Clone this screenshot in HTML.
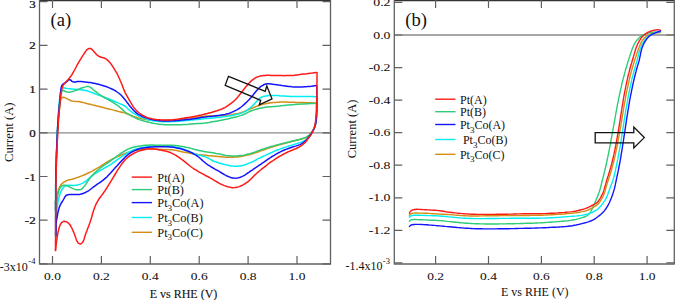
<!DOCTYPE html>
<html><head><meta charset="utf-8"><title>CV and LSV</title>
<style>html,body{margin:0;padding:0;background:#fff;width:675px;height:300px;overflow:hidden}svg{display:block}text{font-family:"Liberation Serif",serif}</style>
</head><body>
<svg width="675" height="300" viewBox="0 0 675 300"><rect width="675" height="300" fill="#fff"/><line x1="39.5" y1="132.9" x2="330.5" y2="132.9" stroke="#8a8a8a" stroke-width="1.4"/><line x1="39.5" y1="0.5" x2="330.5" y2="0.5" stroke="#333" stroke-width="1.6"/><line x1="39.5" y1="0" x2="39.5" y2="264.5" stroke="#606060" stroke-width="1.3"/><line x1="330.5" y1="0" x2="330.5" y2="264.5" stroke="#606060" stroke-width="1.3"/><line x1="39.5" y1="264.0" x2="330.5" y2="264.0" stroke="#606060" stroke-width="1.3"/><path d="M52.5,264.0 V256.0 M52.5,0 V8 M101.4,264.0 V256.0 M101.4,0 V8 M150.3,264.0 V256.0 M150.3,0 V8 M199.2,264.0 V256.0 M199.2,0 V8 M248.1,264.0 V256.0 M248.1,0 V8 M297.0,264.0 V256.0 M297.0,0 V8 M39.5,1.7 H47.5 M330.5,1.7 H322.5 M39.5,45.4 H47.5 M330.5,45.4 H322.5 M39.5,89.1 H47.5 M330.5,89.1 H322.5 M39.5,132.8 H47.5 M330.5,132.8 H322.5 M39.5,176.5 H47.5 M330.5,176.5 H322.5 M39.5,220.2 H47.5 M330.5,220.2 H322.5 M39.5,263.9 H47.5 M330.5,263.9 H322.5" stroke="#606060" stroke-width="1.2" fill="none"/><g  font-size="10.8" stroke="#111" stroke-width="0.05" fill="#111"><text transform="translate(52.5,279.7) scale(1.25,1)" text-anchor="middle">0.0</text><text transform="translate(101.4,279.7) scale(1.25,1)" text-anchor="middle">0.2</text><text transform="translate(150.3,279.7) scale(1.25,1)" text-anchor="middle">0.4</text><text transform="translate(199.2,279.7) scale(1.25,1)" text-anchor="middle">0.6</text><text transform="translate(248.1,279.7) scale(1.25,1)" text-anchor="middle">0.8</text><text transform="translate(297.0,279.7) scale(1.25,1)" text-anchor="middle">1.0</text><text transform="translate(35.6,8.4) scale(1.2,1)" text-anchor="end" stroke-width="0.25">3</text><text transform="translate(35.6,49.4) scale(1.2,1)" text-anchor="end" stroke-width="0.25">2</text><text transform="translate(35.6,93.1) scale(1.2,1)" text-anchor="end" stroke-width="0.25">1</text><text transform="translate(35.6,136.8) scale(1.2,1)" text-anchor="end" stroke-width="0.25">0</text><text transform="translate(35.6,180.5) scale(1.2,1)" text-anchor="end" stroke-width="0.25">-1</text><text transform="translate(35.6,224.2) scale(1.2,1)" text-anchor="end" stroke-width="0.25">-2</text></g><g  font-size="11" fill="#111"><text x="-0.3" y="270.6" font-size="12">-3x10</text><text x="28.3" y="263.5" font-size="8.5">-4</text></g><text x="183.5" y="297.5" text-anchor="middle"  font-size="12" stroke="#111" stroke-width="0.12" fill="#111">E vs RHE (V)</text><text transform="translate(13.2,132.2) rotate(-90)" text-anchor="middle"  font-size="12.7" fill="#111">Current (A)</text><text x="50.6" y="25.6" font-size="18.6" fill="#111">(a)</text><path d="M55.7,236.0 55.7,234.3 55.7,232.7 55.7,231.0 55.7,229.0 55.7,226.9 55.7,224.7 55.7,223.1 55.7,221.5 55.7,219.8 55.7,218.1 55.7,216.4 55.7,214.6 55.7,212.8 55.7,211.0 55.6,209.2 55.6,207.3 55.6,205.5 55.6,203.6 55.6,201.7 55.7,199.8 55.7,198.0 55.7,196.1 55.7,194.3 55.7,192.5 55.7,190.7 55.7,188.9 55.7,187.2 55.7,185.5 55.7,183.8 55.8,182.3 55.8,180.1 55.8,178.3 55.9,176.5 55.9,174.8 55.9,173.0 56.0,171.2 56.0,169.4 56.1,167.7 56.1,165.9 56.2,164.1 56.2,162.4 56.3,160.6 56.3,158.9 56.4,157.1 56.4,155.4 56.5,153.7 56.6,152.1 56.6,150.4 56.7,148.8 56.7,147.2 56.8,145.6 56.9,144.1 56.9,142.5 57.0,140.3 57.1,138.2 57.2,136.2 57.3,134.4 57.4,132.4 57.5,129.5 57.7,127.0 57.8,125.0 58.0,123.2 58.1,121.5 58.3,119.4 58.6,117.5 58.8,115.8 59.0,114.1 59.2,112.3 59.4,110.1 59.6,108.0 59.8,106.0 60.1,104.2 60.3,102.4 60.5,100.8 60.8,99.3 62.2,97.5 63.8,97.3 65.3,97.9 67.0,98.7 68.3,99.4 70.0,100.2 71.8,100.9 73.9,101.3 75.5,101.4 77.2,101.5 78.9,101.6 80.5,101.9 82.0,102.2 83.5,102.6 85.1,103.0 86.8,103.5 88.5,103.9 89.9,104.2 91.5,104.6 93.2,105.1 94.9,105.5 96.7,105.9 98.3,106.3 99.9,106.7 101.6,107.1 103.2,107.5 104.9,108.0 106.5,108.4 108.2,108.8 109.8,109.2 111.6,109.6 113.4,110.1 115.2,110.6 116.9,111.0 118.4,111.4 120.8,111.9 122.9,112.4 125.1,113.1 126.9,113.7 128.4,114.3 130.1,115.0 131.8,115.7 133.6,116.4 135.3,117.0 137.0,117.5 138.5,117.9 140.1,118.3 141.6,118.7 143.2,119.0 144.8,119.3 146.3,119.6 147.9,119.8 149.5,120.0 151.2,120.1 152.9,120.2 154.6,120.3 156.3,120.4 158.0,120.4 159.7,120.4 161.3,120.4 163.0,120.4 164.7,120.3 166.4,120.2 168.1,120.2 169.8,120.1 171.5,120.0 173.2,119.8 174.9,119.7 176.7,119.5 178.4,119.3 180.1,119.2 181.8,119.0 183.4,118.8 185.1,118.6 186.9,118.5 188.6,118.3 190.4,118.1 192.1,117.9 193.8,117.8 195.4,117.6 197.1,117.3 198.6,117.0 200.4,116.7 202.8,116.3 205.2,116.0 207.0,115.9 209.1,115.9 210.8,115.9 212.4,115.9 214.2,115.9 216.0,115.9 217.7,115.9 219.5,115.9 221.2,115.8 222.8,115.7 224.4,115.5 226.1,115.3 227.8,115.1 229.5,114.9 231.2,114.7 232.9,114.4 234.5,114.1 236.1,113.8 237.7,113.5 239.7,113.0 241.3,112.5 243.1,112.0 244.8,111.3 246.3,110.7 247.7,110.1 249.1,109.5 251.0,108.6 253.2,107.7 255.0,107.0 256.6,106.4 258.1,105.8 259.6,105.2 261.1,104.7 262.7,104.3 264.2,103.9 266.3,103.5 267.9,103.2 269.6,102.9 271.6,102.7 273.4,102.5 275.1,102.4 277.1,102.2 278.6,102.2 280.3,102.1 282.6,102.1 285.3,102.1 287.0,102.1 289.1,102.2 290.8,102.2 292.6,102.3 294.5,102.3 296.4,102.4 298.3,102.4 300.3,102.5 302.2,102.5 304.2,102.6 306.0,102.7 307.8,102.7 309.6,102.8 311.2,102.8 313.2,102.9 315.8,103.0" fill="none" stroke="#d48e14" stroke-width="1.5" stroke-linejoin="round" stroke-linecap="round"/><path d="M316.5,103.0 316.5,104.9 316.6,107.3 316.6,109.3 316.6,111.4 316.5,113.2 316.5,114.9 316.4,116.6 316.2,118.4 316.1,120.1 315.9,121.8 315.5,123.9 314.9,125.8 314.3,127.5 313.6,128.9 312.9,130.3 312.0,131.8 310.9,133.4 309.8,134.7 308.6,135.9 306.9,137.0 305.6,137.7 303.3,138.5 301.6,139.0 299.5,139.6 297.9,140.0 296.1,140.4 294.4,140.8 292.5,141.3 290.9,141.7 288.8,142.3 287.2,142.7 285.6,143.1 284.0,143.5 282.4,144.0 280.8,144.4 279.2,144.8 277.7,145.3 276.1,145.7 274.4,146.3 272.8,146.8 271.2,147.3 269.6,147.9 268.0,148.4 266.5,148.9 264.9,149.5 263.3,150.0 261.7,150.5 260.1,151.1 258.6,151.7 257.0,152.2 255.5,152.8 253.9,153.3 252.3,153.8 250.8,154.3 249.2,154.7 247.5,155.1 245.7,155.5 244.0,155.8 242.3,156.2 240.6,156.5 239.0,156.7 236.8,157.0 234.8,157.1 232.9,157.2 231.2,157.3 229.6,157.3 228.1,157.2 225.7,157.2 224.1,157.1 221.5,156.8 219.7,156.7 218.1,156.5 216.1,156.3 214.4,156.2 212.7,156.0 210.9,155.8 209.1,155.7 207.2,155.5 205.4,155.3 203.7,155.1 202.1,154.9 200.1,154.7 198.0,154.5 196.1,154.2 194.4,154.0 192.9,153.7 191.4,153.5 189.1,153.1 187.5,152.8 185.9,152.5 184.3,152.2 182.8,151.9 181.2,151.5 179.6,151.2 178.0,150.8 176.4,150.5 174.9,150.3 173.3,150.0 171.6,149.8 169.9,149.7 168.2,149.6 166.5,149.5 164.8,149.5 163.2,149.4 161.6,149.4 160.0,149.3 158.3,149.2 156.6,149.0 154.9,148.9 153.3,148.8 151.7,148.7 150.0,148.7 148.3,148.7 146.7,148.8 145.1,149.0 143.5,149.2 141.8,149.4 140.1,149.7 138.4,150.0 136.7,150.4 135.0,150.7 133.4,151.1 131.9,151.5 130.3,151.9 128.8,152.3 127.2,152.8 125.6,153.3 124.1,153.8 122.5,154.4 121.0,155.0 119.5,155.7 117.9,156.4 116.4,157.1 114.8,157.9 113.3,158.6 111.8,159.4 110.3,160.2 109.0,160.9 107.6,161.7 106.0,162.7 104.6,163.6 103.2,164.5 101.8,165.3 100.6,166.2 98.7,167.4 97.3,168.2 95.6,169.2 94.1,170.0 92.7,170.8 91.2,171.6 89.8,172.3 88.2,173.0 86.7,173.8 85.1,174.5 83.5,175.2 81.9,175.8 80.5,176.4 78.9,177.0 77.0,177.6 75.3,178.2 73.7,178.7 71.8,179.2 69.6,179.7 68.0,180.1 66.5,180.7 64.8,181.6 63.4,182.5 61.8,183.8 60.6,185.3 59.7,186.7 59.0,188.3 58.3,190.3 57.8,191.9 57.4,193.9 57.0,196.2 56.8,198.0 56.6,200.2 56.5,201.8 56.4,203.5 56.3,205.2 56.3,207.0 56.2,208.8 56.1,210.6 56.1,212.4 56.0,214.2 56.0,215.8 55.9,217.4 55.9,219.2 55.9,221.0 55.8,222.9 55.8,224.8 55.8,226.7 55.8,228.6 55.8,230.3 55.7,232.0 55.7,233.9 55.7,236.0" fill="none" stroke="#d48e14" stroke-width="1.5" stroke-linejoin="round" stroke-linecap="round"/><path d="M55.7,236.0 55.7,234.3 55.7,232.7 55.7,231.0 55.7,229.0 55.7,226.9 55.7,224.7 55.7,223.1 55.7,221.5 55.7,219.8 55.7,218.1 55.7,216.4 55.7,214.6 55.7,212.8 55.7,211.0 55.6,209.2 55.6,207.3 55.6,205.5 55.6,203.6 55.6,201.7 55.7,199.8 55.7,198.0 55.7,196.1 55.7,194.3 55.7,192.5 55.7,190.7 55.7,188.9 55.7,187.2 55.7,185.5 55.7,183.8 55.8,182.3 55.8,180.1 55.8,178.3 55.9,176.5 55.9,174.8 55.9,173.1 56.0,171.3 56.0,169.6 56.1,167.9 56.1,166.2 56.2,164.5 56.2,162.8 56.3,161.1 56.3,159.4 56.4,157.8 56.4,156.1 56.5,154.5 56.5,152.9 56.6,151.2 56.7,149.6 56.7,148.1 56.8,146.5 56.8,145.0 56.9,143.4 57.0,141.9 57.1,139.7 57.2,137.5 57.2,135.4 57.3,133.5 57.4,131.2 57.5,129.1 57.6,127.1 57.7,125.2 57.8,123.3 57.9,121.5 58.0,119.7 58.1,117.9 58.2,116.2 58.3,114.6 58.4,112.9 58.5,111.3 58.6,109.8 58.8,107.6 59.0,105.5 59.2,103.5 59.3,101.9 59.6,99.0 59.8,97.4 60.2,95.0 60.6,93.1 61.0,91.4 61.5,89.6 62.3,88.1 63.8,87.8 65.8,88.3 67.9,88.6 69.9,88.8 71.8,89.0 74.0,89.2 75.6,89.3 77.3,89.5 78.9,89.6 80.5,89.8 82.7,90.1 84.2,90.3 85.9,90.6 87.8,91.1 89.8,91.7 91.2,92.2 92.8,92.8 94.4,93.5 96.0,94.1 97.6,94.7 99.1,95.3 100.6,95.8 102.1,96.4 103.6,97.0 105.2,97.5 106.7,98.1 108.2,98.7 109.7,99.3 111.4,100.0 113.0,100.7 114.7,101.5 116.4,102.2 117.8,102.9 119.6,103.6 121.7,104.5 123.6,105.3 125.5,106.5 126.6,107.5 127.8,108.7 129.1,109.9 130.4,111.0 131.6,111.9 133.5,113.2 135.0,114.1 137.0,115.1 138.9,116.0 140.4,116.7 142.0,117.4 143.7,118.2 145.5,118.8 147.1,119.4 148.7,119.9 150.4,120.3 152.1,120.6 153.8,120.9 155.4,121.1 157.1,121.3 158.8,121.5 160.5,121.6 162.2,121.7 163.9,121.7 165.6,121.7 167.3,121.7 169.0,121.7 170.7,121.7 172.4,121.6 174.1,121.5 175.8,121.4 177.5,121.3 179.2,121.2 180.9,121.1 182.6,120.9 184.3,120.8 186.0,120.6 187.8,120.5 189.5,120.3 191.3,120.1 193.0,119.9 194.6,119.8 196.2,119.6 197.9,119.4 199.8,119.2 201.8,119.0 203.9,118.8 205.8,118.6 207.6,118.5 209.9,118.3 211.6,118.1 213.3,118.0 215.1,117.8 216.8,117.6 218.6,117.4 220.3,117.2 222.0,117.0 223.6,116.8 225.3,116.5 227.0,116.3 228.7,116.0 230.5,115.7 232.2,115.4 233.9,115.0 235.5,114.7 237.1,114.3 239.1,113.8 241.4,113.1 243.4,112.2 245.0,111.4 246.4,110.6 248.2,109.3 249.9,108.1 251.4,106.8 252.7,105.6 253.9,104.4 254.9,103.2 256.6,101.4 257.8,100.1 258.9,98.9 260.1,98.0 261.4,97.2 262.9,96.6 264.5,96.2 266.3,95.9 268.1,95.6 270.2,95.5 272.2,95.5 273.9,95.5 276.0,95.6 277.7,95.6 279.7,95.8 281.3,95.9 283.0,96.0 284.8,96.1 286.5,96.2 288.3,96.3 290.0,96.4 291.7,96.5 293.4,96.5 295.1,96.5 296.8,96.6 298.6,96.5 300.3,96.5 302.0,96.5 303.6,96.5 305.7,96.5 307.4,96.5 309.5,96.5 311.5,96.6 313.2,96.6 314.7,96.7 316.1,96.7" fill="none" stroke="#00eef2" stroke-width="1.5" stroke-linejoin="round" stroke-linecap="round"/><path d="M316.6,96.7 316.6,98.4 316.6,100.3 316.7,102.1 316.7,104.0 316.7,106.0 316.7,107.9 316.7,109.7 316.6,111.2 316.6,112.9 316.5,114.7 316.4,116.5 316.2,118.2 316.1,119.8 315.9,121.3 315.6,123.2 315.3,124.9 314.8,126.7 314.1,128.7 313.4,130.2 312.6,131.6 311.8,133.0 310.9,134.5 309.8,136.0 308.8,137.3 307.7,138.5 306.5,139.5 305.3,140.4 303.3,141.3 301.6,142.0 300.0,142.6 298.1,143.2 296.6,143.7 295.0,144.1 293.4,144.6 291.7,145.2 289.9,145.7 287.8,146.4 286.3,146.9 284.7,147.4 283.1,148.0 281.5,148.5 279.9,149.1 278.3,149.7 276.7,150.3 275.2,150.9 273.8,151.5 272.3,152.1 270.9,152.8 269.4,153.5 267.9,154.1 266.4,154.8 264.9,155.6 263.3,156.3 261.9,157.0 260.5,157.7 259.0,158.4 257.4,159.2 255.9,160.0 254.3,160.8 252.8,161.6 251.3,162.3 249.3,163.1 247.1,164.0 245.1,164.7 243.4,165.2 241.9,165.6 240.4,165.9 238.9,166.1 237.3,166.3 235.7,166.3 234.1,166.2 232.6,166.1 231.0,165.9 229.4,165.6 227.6,165.2 225.9,164.8 224.5,164.4 222.8,164.0 221.1,163.5 219.3,163.0 217.6,162.5 216.0,161.9 214.0,161.2 212.3,160.5 210.8,159.6 209.2,158.7 207.7,157.8 206.0,157.1 204.1,156.4 202.5,156.0 200.9,155.5 199.2,155.1 197.4,154.6 195.7,154.1 194.1,153.5 192.5,153.0 191.0,152.4 189.6,151.7 188.2,151.1 186.7,150.4 185.2,149.7 183.6,149.1 181.8,148.5 179.9,148.0 177.9,147.6 176.4,147.4 174.7,147.1 173.0,146.9 171.2,146.8 169.5,146.6 167.7,146.5 166.0,146.3 164.3,146.2 162.7,146.1 160.8,146.0 159.0,146.0 156.9,146.0 155.2,146.0 153.0,146.2 150.8,146.4 149.2,146.6 147.5,146.8 145.9,147.0 144.2,147.3 142.4,147.6 140.6,147.9 138.9,148.3 137.2,148.7 135.7,149.1 134.2,149.6 132.6,150.3 131.2,150.9 129.2,151.9 127.9,152.7 126.5,153.5 125.1,154.4 123.7,155.3 122.2,156.2 120.7,157.3 119.2,158.3 117.7,159.3 116.0,160.6 114.0,162.1 112.6,163.2 111.1,164.3 109.4,165.3 108.0,166.1 106.4,167.0 104.7,167.9 103.1,168.8 101.7,169.6 100.3,170.5 98.7,171.4 97.2,172.3 95.8,173.2 94.4,174.1 93.1,175.1 91.7,176.0 90.4,177.1 89.1,178.2 87.9,179.3 86.7,180.4 85.5,181.4 83.7,182.6 82.1,183.4 80.5,184.1 78.9,184.6 77.3,185.0 75.7,185.2 74.1,185.4 72.3,185.4 70.6,185.3 68.4,185.3 66.7,185.5 65.0,186.1 63.6,187.2 62.4,188.8 61.5,190.2 60.7,192.1 60.0,194.2 59.4,196.0 58.8,198.0 58.5,199.6 58.1,201.2 57.8,203.1 57.5,205.1 57.3,207.1 57.1,208.6 57.0,210.3 56.8,212.0 56.7,213.7 56.6,215.5 56.5,217.2 56.4,218.9 56.3,220.5 56.2,222.8 56.1,224.8 56.0,226.8 55.9,228.7 55.9,230.6 55.8,232.4 55.8,234.3 55.7,236.0" fill="none" stroke="#00eef2" stroke-width="1.5" stroke-linejoin="round" stroke-linecap="round"/><path d="M55.7,236.0 55.7,234.3 55.7,232.7 55.7,231.0 55.7,229.0 55.7,226.9 55.7,224.7 55.7,223.1 55.7,221.5 55.7,219.8 55.7,218.1 55.7,216.4 55.7,214.6 55.7,212.8 55.7,211.0 55.6,209.2 55.6,207.3 55.6,205.5 55.6,203.6 55.6,201.7 55.7,199.8 55.7,198.0 55.7,196.1 55.7,194.3 55.7,192.5 55.7,190.7 55.7,188.9 55.7,187.2 55.7,185.5 55.7,183.8 55.8,182.3 55.8,180.1 55.8,178.3 55.9,176.5 55.9,174.8 55.9,173.0 56.0,171.3 56.0,169.5 56.1,167.8 56.1,166.1 56.2,164.3 56.2,162.6 56.3,160.9 56.3,159.2 56.4,157.5 56.4,155.8 56.5,154.2 56.5,152.5 56.6,150.9 56.7,149.3 56.7,147.7 56.8,146.1 56.8,144.6 56.9,143.1 57.0,140.8 57.1,138.7 57.2,136.5 57.3,134.6 57.4,132.9 57.4,131.2 57.6,128.7 57.7,126.6 57.8,124.6 57.9,122.7 58.0,121.0 58.2,119.2 58.3,117.6 58.4,116.0 58.5,114.5 58.7,112.3 58.9,110.2 59.1,108.2 59.3,106.5 59.6,104.2 59.9,101.7 60.2,99.6 60.5,97.7 60.8,95.8 61.2,94.1 61.5,92.6 61.9,91.1 63.3,90.2 65.4,91.5 67.3,92.1 69.0,92.2 70.5,92.0 72.4,91.6 74.4,90.9 76.4,90.2 77.9,89.5 79.5,88.9 80.9,88.3 82.7,87.7 84.7,87.1 86.4,86.6 88.7,86.6 90.2,87.1 92.0,88.4 93.4,89.7 95.1,91.2 96.4,92.2 98.1,93.5 99.3,94.3 100.8,95.3 102.3,96.3 104.3,97.5 105.7,98.3 107.3,99.2 108.8,100.0 110.3,100.9 111.6,101.7 113.3,102.7 114.8,103.7 116.4,104.7 117.8,105.6 119.1,106.6 120.4,107.7 121.9,109.1 123.4,110.7 125.1,112.0 126.7,113.1 128.7,114.3 130.1,115.2 131.7,116.1 133.2,116.9 134.8,117.7 136.2,118.4 137.7,119.0 139.3,119.6 140.9,120.1 142.4,120.6 144.0,121.0 145.6,121.4 147.1,121.8 148.7,122.2 150.3,122.6 151.8,122.9 153.4,123.3 155.0,123.6 156.6,123.8 158.1,124.1 159.7,124.3 161.3,124.5 163.0,124.6 164.7,124.7 166.4,124.7 168.1,124.8 169.8,124.8 171.6,124.8 173.2,124.8 175.0,124.8 176.7,124.8 178.4,124.8 180.1,124.7 181.8,124.7 183.4,124.6 185.1,124.5 186.9,124.4 188.6,124.3 190.4,124.1 192.1,124.0 193.8,123.8 195.4,123.7 197.1,123.6 198.6,123.5 200.4,123.4 202.8,123.2 205.2,123.0 207.0,122.7 209.1,122.4 210.8,122.1 212.5,121.8 214.2,121.5 216.0,121.2 217.7,120.9 219.5,120.6 221.2,120.2 222.8,119.9 224.4,119.6 226.1,119.2 227.8,118.9 229.5,118.5 231.2,118.1 232.9,117.7 234.5,117.3 236.1,116.9 237.7,116.5 239.7,115.9 241.3,115.4 243.1,114.7 244.7,114.0 246.2,113.3 247.5,112.6 248.9,111.9 250.9,111.0 252.4,110.5 254.0,109.9 255.6,109.4 257.2,109.0 258.8,108.6 260.4,108.2 261.9,107.9 263.5,107.6 265.1,107.3 266.8,107.1 268.4,106.9 269.9,106.8 271.6,106.7 273.3,106.5 275.2,106.4 277.0,106.2 279.0,106.0 281.1,105.7 282.7,105.6 284.3,105.4 285.9,105.2 287.7,105.0 289.7,104.9 291.9,104.7 293.8,104.6 295.4,104.4 297.2,104.3 299.0,104.2 300.9,104.1 302.8,104.0 304.7,103.9 306.6,103.8 308.5,103.7 310.2,103.6 311.8,103.5 313.7,103.4 315.8,103.3" fill="none" stroke="#2ccc78" stroke-width="1.5" stroke-linejoin="round" stroke-linecap="round"/><path d="M316.5,103.3 316.5,105.1 316.6,107.4 316.6,109.4 316.6,111.4 316.5,113.2 316.5,114.9 316.4,116.6 316.2,118.4 316.1,120.1 315.9,121.7 315.5,123.9 314.9,125.8 314.3,127.5 313.6,129.0 312.9,130.3 312.0,131.7 310.9,133.3 309.8,134.6 308.6,135.7 307.0,136.8 305.6,137.4 303.1,138.3 301.4,138.8 299.3,139.4 297.6,139.8 295.9,140.3 294.1,140.7 292.4,141.1 290.8,141.5 289.2,141.9 287.6,142.3 286.1,142.7 284.5,143.0 283.0,143.4 281.4,143.8 279.8,144.2 278.3,144.6 276.7,145.0 275.1,145.4 273.6,145.9 272.0,146.3 270.4,146.8 268.8,147.3 267.2,147.8 265.7,148.2 264.1,148.8 262.5,149.3 260.9,149.8 259.3,150.4 257.7,151.0 256.1,151.6 254.5,152.2 253.0,152.7 251.5,153.2 250.1,153.7 248.3,154.1 246.5,154.5 244.8,154.9 243.2,155.2 241.6,155.4 240.0,155.6 238.3,155.8 236.6,155.9 234.8,155.9 233.0,155.9 231.3,155.9 229.6,155.8 228.1,155.7 225.7,155.4 224.0,155.0 221.5,154.4 219.7,154.0 218.1,153.7 216.1,153.4 214.4,153.1 212.7,152.8 210.9,152.5 209.1,152.2 207.2,152.0 205.4,151.7 203.7,151.4 202.1,151.1 200.1,150.7 198.1,150.3 196.3,149.8 194.7,149.4 193.3,149.0 191.1,148.4 189.0,147.8 187.5,147.5 185.9,147.2 184.2,146.8 182.5,146.5 180.8,146.2 179.2,146.0 177.5,145.7 175.8,145.5 174.1,145.4 172.5,145.3 170.8,145.2 169.0,145.2 167.3,145.2 165.6,145.2 163.9,145.2 162.3,145.3 160.1,145.3 158.1,145.3 156.3,145.2 154.6,145.2 153.1,145.1 151.5,145.1 150.0,145.1 148.2,145.2 146.7,145.2 145.2,145.3 143.5,145.5 141.7,145.7 140.2,145.9 138.6,146.2 136.9,146.5 135.1,146.9 133.4,147.3 131.7,147.8 130.2,148.3 128.8,148.9 126.7,149.8 125.4,150.5 124.0,151.3 122.4,152.3 121.1,153.1 119.8,154.0 118.5,155.0 117.1,156.0 115.8,157.1 114.4,158.1 113.0,159.2 111.6,160.2 110.3,161.2 109.0,162.1 107.6,163.0 106.2,163.9 104.8,164.8 103.5,165.7 102.2,166.6 101.0,167.5 99.7,168.5 98.3,169.7 97.0,170.8 95.8,171.9 94.6,173.0 93.4,174.2 92.3,175.4 91.2,176.6 90.1,178.0 89.1,179.4 88.0,180.9 87.1,182.4 86.2,183.6 85.1,185.2 83.6,187.1 82.6,188.3 81.0,189.4 78.7,189.8 76.8,189.7 75.1,189.4 73.5,188.9 71.9,188.1 70.4,187.3 69.0,186.6 67.2,185.8 65.7,185.3 64.0,185.2 62.0,185.8 60.6,187.1 59.5,189.0 58.8,190.8 58.3,192.7 57.9,194.2 57.6,196.0 57.3,198.0 57.0,200.2 56.8,202.2 56.6,204.3 56.5,205.9 56.4,207.6 56.3,209.3 56.2,211.1 56.1,213.1 56.0,215.1 55.9,217.2 55.9,218.9 55.9,220.7 55.8,222.6 55.8,224.6 55.8,226.5 55.8,228.3 55.8,230.2 55.7,231.9 55.7,233.9 55.7,236.0" fill="none" stroke="#2ccc78" stroke-width="1.5" stroke-linejoin="round" stroke-linecap="round"/><path d="M55.7,236.0 55.7,234.3 55.7,232.7 55.7,231.0 55.7,229.0 55.7,226.9 55.7,224.7 55.7,223.1 55.7,221.5 55.7,219.8 55.7,218.1 55.7,216.4 55.7,214.6 55.7,212.8 55.7,211.0 55.6,209.2 55.6,207.3 55.6,205.5 55.6,203.6 55.6,201.7 55.7,199.8 55.7,198.0 55.7,196.1 55.7,194.3 55.7,192.5 55.7,190.7 55.7,188.9 55.7,187.2 55.7,185.5 55.7,183.8 55.8,182.3 55.8,180.1 55.8,178.3 55.9,176.5 55.9,174.8 55.9,173.0 56.0,171.3 56.0,169.6 56.1,167.8 56.1,166.1 56.2,164.4 56.2,162.7 56.3,161.0 56.3,159.3 56.4,157.6 56.4,155.9 56.5,154.2 56.5,152.6 56.6,151.0 56.7,149.3 56.7,147.8 56.8,146.2 56.8,144.7 56.9,143.1 57.0,140.9 57.1,138.7 57.2,136.6 57.3,134.6 57.4,132.9 57.4,131.2 57.6,128.9 57.7,126.8 57.8,124.9 57.9,123.0 58.0,121.3 58.2,119.5 58.3,117.9 58.4,116.3 58.6,114.8 58.7,112.6 58.9,110.5 59.1,108.4 59.3,106.6 59.4,104.9 59.6,103.1 59.8,100.7 60.0,98.6 60.1,96.7 60.3,94.9 60.4,93.3 60.7,91.2 60.8,89.6 61.4,86.6 61.9,85.2 63.1,84.0 65.0,82.9 66.4,82.0 67.6,80.9 68.8,79.6 70.5,79.9 72.0,81.4 73.5,82.0 75.6,81.9 77.3,81.6 79.0,81.5 81.3,81.6 83.2,81.8 85.1,82.0 87.3,82.2 88.9,82.4 90.6,82.6 92.2,82.9 93.8,83.2 95.4,83.5 97.0,83.9 98.6,84.3 100.2,84.8 101.8,85.2 103.4,85.7 105.1,86.3 106.7,86.8 108.2,87.4 109.8,88.1 111.4,88.8 112.9,89.5 114.3,90.2 115.7,91.0 117.1,92.0 118.5,93.0 119.8,94.0 121.0,95.0 122.1,96.2 123.6,98.0 125.1,99.8 126.3,101.4 127.3,102.8 128.5,104.3 129.6,105.7 130.7,107.1 131.7,108.3 132.9,109.6 134.0,110.7 135.6,112.3 136.9,113.3 138.4,114.3 140.2,115.3 141.6,116.0 143.2,116.7 144.7,117.3 146.3,117.9 147.9,118.4 149.5,118.9 151.1,119.3 152.8,119.7 154.5,120.0 156.2,120.3 157.9,120.5 159.7,120.7 161.4,120.8 163.0,120.9 164.7,121.0 166.4,121.0 168.1,120.9 169.8,120.9 171.5,120.8 173.2,120.8 175.0,120.7 176.7,120.6 178.4,120.4 180.1,120.3 181.8,120.1 183.4,120.0 185.1,119.8 186.9,119.6 188.6,119.4 190.4,119.2 192.1,118.9 193.8,118.7 195.4,118.5 197.1,118.2 199.1,117.9 200.9,117.6 202.7,117.3 205.2,117.0 207.0,116.7 208.5,116.6 210.3,116.4 212.1,116.2 214.0,116.0 215.9,115.7 217.7,115.5 219.6,115.3 221.2,115.0 223.2,114.7 225.0,114.4 227.2,113.8 228.9,113.4 230.8,112.7 232.6,111.9 234.1,111.2 235.7,110.4 237.2,109.6 238.5,108.8 239.8,108.0 241.2,107.0 242.6,105.8 244.0,104.6 245.3,103.4 246.5,102.3 247.8,101.0 249.0,99.8 250.1,98.6 251.2,97.4 252.3,96.0 253.3,94.7 254.4,93.2 255.5,91.9 256.5,90.8 257.7,89.5 258.9,88.3 260.0,87.2 261.3,86.2 262.8,85.3 264.2,84.5 265.8,84.0 267.3,83.7 269.4,83.8 271.1,84.0 273.0,84.3 274.7,84.5 276.8,84.8 278.5,85.1 280.2,85.3 281.9,85.6 283.5,85.8 285.1,86.0 286.8,86.2 288.5,86.4 290.2,86.6 291.9,86.8 293.7,86.9 295.4,87.0 297.1,87.0 298.8,87.0 300.6,87.0 302.4,86.9 304.1,86.8 305.7,86.7 307.3,86.6 309.3,86.4 311.3,86.2 313.1,85.9 314.7,85.7 316.1,85.5" fill="none" stroke="#1414ff" stroke-width="1.5" stroke-linejoin="round" stroke-linecap="round"/><path d="M316.8,85.5 316.8,87.2 316.8,88.8 316.8,90.5 316.8,92.2 316.8,94.1 316.8,96.0 316.9,98.0 316.9,100.0 316.9,101.9 316.9,103.8 316.8,105.6 316.8,107.3 316.8,109.2 316.8,111.0 316.7,113.4 316.6,115.3 316.6,116.8 316.4,118.8 316.2,120.6 315.8,122.8 315.4,124.8 314.9,126.4 314.4,127.8 313.5,129.9 312.6,131.5 311.6,133.1 310.7,134.5 309.8,135.7 308.7,137.1 307.7,138.4 306.6,139.6 305.4,140.8 304.3,141.8 303.0,142.8 301.4,143.8 299.9,144.6 297.9,145.4 296.3,145.9 294.5,146.4 292.6,147.0 290.6,147.7 289.1,148.2 287.6,148.8 286.0,149.4 284.3,150.0 282.7,150.7 281.3,151.4 279.9,152.1 278.4,152.8 277.0,153.6 275.6,154.4 274.2,155.3 272.7,156.1 271.3,157.0 270.0,157.9 268.6,158.8 267.3,159.7 266.0,160.6 264.6,161.6 263.3,162.5 262.0,163.4 260.7,164.3 259.3,165.2 257.9,166.2 256.5,167.1 255.2,168.0 253.8,168.9 252.6,169.8 250.8,170.9 249.2,172.1 247.6,173.2 246.2,174.2 244.8,175.1 243.4,175.9 241.9,176.6 240.3,177.2 238.6,177.7 237.0,178.0 235.5,178.2 233.9,178.1 232.4,177.9 230.8,177.5 229.2,176.9 227.7,176.3 226.2,175.6 224.5,174.7 222.5,173.5 220.3,172.1 218.8,171.2 216.8,170.1 215.3,169.3 213.8,168.4 212.2,167.5 210.7,166.6 209.3,165.7 207.9,164.8 206.0,163.5 204.6,162.3 203.3,161.2 202.1,160.1 200.9,159.0 199.8,158.0 198.6,157.0 197.3,156.1 195.9,155.1 194.4,154.3 193.0,153.5 191.5,152.7 190.0,152.0 188.3,151.3 186.6,150.7 184.5,150.0 183.0,149.5 181.4,149.0 179.8,148.6 178.1,148.2 176.5,147.9 174.9,147.6 173.3,147.3 171.6,147.1 169.9,147.0 168.1,146.8 166.3,146.8 164.6,146.7 163.0,146.7 160.8,146.7 159.0,146.7 157.2,146.7 155.1,146.8 152.8,146.9 151.0,147.1 148.8,147.3 147.2,147.5 145.5,147.7 143.7,147.9 142.1,148.2 140.5,148.6 138.2,149.2 136.5,149.8 134.9,150.4 133.4,151.2 131.9,152.0 130.4,152.9 129.1,153.8 127.8,154.8 126.5,155.9 125.2,157.1 124.0,158.4 122.8,159.6 121.7,160.7 120.5,161.9 119.5,163.0 118.0,164.7 116.9,165.9 115.6,167.3 114.5,168.6 113.0,170.2 111.9,171.4 110.8,172.7 109.6,174.0 108.4,175.3 107.2,176.6 106.1,177.7 104.3,179.2 102.9,180.4 101.5,181.4 100.2,182.3 98.9,183.2 97.0,184.4 95.1,185.8 93.6,186.9 92.2,188.0 90.9,189.0 89.6,190.0 88.4,190.8 86.9,191.7 85.3,192.5 83.7,193.2 82.1,193.7 80.5,194.2 78.9,194.5 77.2,194.6 75.5,194.6 73.9,194.6 71.8,194.6 69.7,194.6 67.9,194.8 66.3,195.3 64.8,197.1 64.0,198.6 63.2,200.0 62.3,201.5 61.1,203.4 60.2,205.1 59.5,206.7 58.9,208.9 58.4,210.6 58.0,212.4 57.7,214.1 57.4,215.6 57.0,217.5 56.7,219.0 56.4,221.0 56.3,222.7 56.1,225.1 56.0,227.0 55.9,229.0 55.9,231.1 55.8,232.9 55.7,234.6 55.7,236.0" fill="none" stroke="#1414ff" stroke-width="1.5" stroke-linejoin="round" stroke-linecap="round"/><path d="M55.5,250.5 55.5,248.8 55.5,247.3 55.5,245.6 55.5,243.8 55.5,241.7 55.6,239.6 55.6,237.4 55.6,235.8 55.6,234.2 55.6,232.5 55.6,230.9 55.6,229.1 55.6,227.4 55.6,225.6 55.6,223.8 55.6,222.0 55.6,220.1 55.6,218.3 55.6,216.4 55.7,214.5 55.7,212.6 55.7,210.7 55.7,208.8 55.7,206.9 55.7,205.1 55.7,203.2 55.7,201.3 55.8,199.5 55.8,197.7 55.8,195.9 55.8,194.1 55.8,192.4 55.8,190.7 55.9,189.0 55.9,187.4 55.9,185.8 55.9,184.2 56.0,182.1 56.0,180.2 56.0,178.1 56.1,176.1 56.1,174.2 56.2,172.3 56.2,170.5 56.3,168.7 56.3,166.9 56.4,165.2 56.4,163.4 56.5,161.7 56.5,160.0 56.6,158.4 56.7,156.8 56.7,155.1 56.8,153.6 56.8,152.0 56.9,150.5 57.0,148.9 57.0,147.4 57.1,145.2 57.2,143.0 57.3,140.9 57.5,138.8 57.6,136.7 57.7,134.7 57.8,132.9 57.8,131.2 58.0,129.1 58.1,127.1 58.2,125.2 58.3,123.3 58.4,121.5 58.5,119.7 58.7,118.0 58.8,116.3 58.9,114.6 59.0,113.0 59.2,111.4 59.3,109.9 59.5,107.6 59.7,105.5 59.9,103.6 60.0,101.9 60.3,99.0 60.5,97.4 60.8,95.0 61.0,93.1 61.3,91.5 61.7,89.7 62.2,87.7 62.8,86.0 63.8,84.3 65.0,83.0 66.2,81.6 67.8,79.9 68.9,78.6 70.0,77.2 71.2,75.7 72.1,74.3 73.2,72.4 74.0,71.0 74.8,69.6 75.6,68.0 76.4,66.5 77.1,65.1 77.9,63.7 78.7,62.3 79.7,60.7 80.7,59.1 81.7,57.5 82.6,55.9 83.5,54.6 84.6,53.0 85.8,51.2 86.9,49.6 89.1,48.4 90.9,48.6 92.3,49.7 93.5,51.0 94.5,52.3 95.7,53.6 97.0,54.9 98.4,56.0 99.8,56.8 101.4,57.3 102.9,57.7 104.5,58.1 106.3,59.2 107.8,60.4 109.1,61.7 110.3,63.1 111.6,64.8 112.5,66.2 113.4,67.6 114.3,69.0 115.1,70.4 116.0,71.8 116.8,73.2 117.6,74.7 118.3,76.2 119.0,77.7 119.7,79.3 120.4,81.0 121.2,82.7 121.8,84.3 122.4,85.8 123.0,87.4 123.6,89.0 124.3,90.6 125.0,92.3 125.7,93.7 126.5,95.2 127.4,96.7 128.3,98.3 129.1,99.7 130.2,101.6 131.3,103.4 132.2,105.0 133.0,106.4 134.0,107.8 135.1,109.1 136.2,110.3 137.3,111.4 138.6,112.5 140.0,113.5 141.3,114.4 142.6,115.3 143.9,116.0 145.4,116.8 147.0,117.5 148.8,118.1 151.0,118.6 152.6,119.0 154.3,119.2 156.1,119.5 157.9,119.7 159.7,119.8 161.4,119.9 163.0,120.0 164.7,120.1 166.4,120.1 168.1,120.1 169.9,120.0 171.6,119.9 173.2,119.8 174.8,119.6 176.4,119.4 178.0,119.2 179.5,118.9 181.1,118.6 182.7,118.4 184.3,118.1 186.0,117.8 187.8,117.5 189.5,117.3 191.3,117.0 193.0,116.7 194.6,116.4 196.1,116.1 197.9,115.7 199.6,115.3 201.1,115.0 202.6,114.6 204.2,114.2 205.8,113.8 207.3,113.5 208.9,113.1 210.5,112.7 212.1,112.3 213.7,111.8 215.3,111.3 216.9,110.8 218.6,110.2 220.2,109.6 221.8,109.0 223.2,108.3 224.8,107.6 226.4,106.6 227.9,105.6 229.2,104.7 230.4,103.8 231.9,102.7 233.3,101.6 234.6,100.5 236.0,99.1 237.5,97.4 238.5,96.1 239.6,94.7 240.8,93.3 241.8,91.9 242.9,90.6 243.9,89.2 245.1,87.8 246.1,86.5 247.2,85.2 248.4,83.9 249.6,82.6 250.8,81.4 251.9,80.3 253.9,78.8 255.3,77.9 256.8,77.2 258.3,76.6 259.9,76.1 262.1,75.7 263.7,75.5 265.6,75.4 267.3,75.3 269.3,75.3 271.5,75.4 273.2,75.5 275.0,75.6 277.0,75.6 279.1,75.6 280.7,75.6 282.5,75.6 284.2,75.7 286.0,75.6 287.8,75.6 289.4,75.6 290.9,75.5 292.6,75.4 294.4,75.3 296.0,75.1 297.5,74.9 299.7,74.6 301.3,74.3 303.0,74.1 304.6,73.9 306.4,73.7 308.4,73.4 310.4,73.2 312.4,73.0 314.0,72.8 316.3,72.5" fill="none" stroke="#ff1a1a" stroke-width="1.5" stroke-linejoin="round" stroke-linecap="round"/><path d="M317.0,72.5 317.0,74.2 317.0,75.7 317.0,77.2 317.0,78.9 317.0,80.7 317.0,82.5 316.9,84.5 316.9,86.4 316.9,88.4 316.9,90.4 316.9,92.3 316.9,94.2 316.9,96.1 316.9,97.8 316.8,99.4 316.8,101.1 316.8,103.0 316.7,105.7 316.6,107.6 316.6,109.2 316.5,111.1 316.4,112.9 316.2,114.8 316.1,116.8 315.9,118.7 315.7,120.4 315.5,122.0 315.1,124.2 314.8,125.9 314.2,127.8 313.7,129.4 313.0,131.0 312.3,132.4 311.5,133.9 310.6,135.2 309.7,136.4 308.7,137.7 307.8,139.0 306.9,140.3 305.8,141.7 304.6,143.0 302.9,144.4 301.6,145.4 300.2,146.4 298.7,147.3 297.2,148.0 295.7,148.7 294.2,149.3 292.6,150.0 290.8,150.7 289.3,151.4 287.3,152.3 285.8,153.0 284.4,153.7 282.9,154.5 281.4,155.3 280.0,156.1 278.5,157.0 277.0,157.9 275.5,158.9 274.1,159.8 272.7,160.8 271.3,161.7 269.9,162.7 268.5,163.7 267.2,164.8 265.9,165.8 264.6,166.8 263.3,167.8 261.9,168.9 260.6,170.0 259.3,171.0 258.1,172.1 256.7,173.3 255.4,174.5 254.2,175.6 253.0,176.9 251.7,178.2 250.4,179.5 249.2,180.6 248.0,181.6 246.5,182.7 245.0,183.7 243.6,184.6 242.1,185.3 240.7,186.0 239.2,186.6 237.7,187.1 236.2,187.4 234.6,187.6 232.8,187.7 231.3,187.5 229.2,187.1 227.7,186.7 226.1,186.2 224.4,185.6 222.8,184.9 221.3,184.3 219.9,183.6 218.5,182.8 217.1,182.0 215.7,181.2 214.2,180.3 212.8,179.4 211.4,178.6 210.0,177.8 208.5,177.0 207.0,176.2 205.5,175.5 204.1,174.7 202.6,173.9 200.7,172.9 199.2,172.1 197.6,171.1 196.2,170.2 194.8,169.4 193.4,168.5 192.0,167.5 190.7,166.5 189.4,165.5 188.0,164.4 186.7,163.3 185.3,162.2 184.0,161.2 182.7,160.2 181.3,159.2 180.0,158.1 178.6,157.2 177.3,156.3 176.0,155.4 174.5,154.6 173.0,153.8 171.6,153.1 170.2,152.5 168.8,152.0 167.2,151.5 165.6,151.1 164.0,150.7 162.4,150.4 160.8,150.1 159.2,149.9 157.5,149.6 155.9,149.3 154.3,149.1 152.0,148.9 150.2,148.9 148.7,148.9 146.8,149.1 144.9,149.5 143.0,150.0 141.4,150.4 139.7,150.9 138.1,151.4 136.5,152.1 135.0,152.7 133.6,153.5 132.2,154.3 130.8,155.2 129.4,156.2 128.1,157.2 126.9,158.2 125.7,159.3 124.6,160.5 123.5,161.7 122.5,163.0 121.5,164.3 120.6,165.7 119.5,167.3 118.6,168.7 117.3,170.6 116.5,172.0 115.6,173.5 114.7,175.0 113.8,176.5 112.9,177.9 112.1,179.3 111.3,180.7 110.3,182.3 109.4,183.7 108.5,185.2 107.6,186.6 106.8,188.0 105.9,189.3 105.0,190.7 104.0,192.1 103.0,193.5 102.0,194.9 101.0,196.2 100.0,197.5 99.1,198.7 97.9,200.8 97.0,202.3 96.0,204.2 95.4,205.6 94.7,207.4 94.1,209.0 93.4,211.1 92.9,212.7 92.4,214.4 92.0,216.1 91.5,217.8 91.0,219.4 90.5,220.9 90.0,222.5 89.4,224.1 88.8,225.7 88.2,227.3 87.6,228.8 87.1,230.2 86.3,232.2 85.7,233.8 85.1,235.8 84.5,237.7 84.0,239.4 83.3,241.2 82.0,243.0 80.4,244.1 78.5,243.4 77.3,241.8 76.5,240.0 75.9,238.3 75.3,236.4 74.6,234.6 74.0,233.0 73.3,231.4 72.6,229.7 71.8,228.0 71.0,226.5 69.9,224.7 68.8,223.4 67.0,222.1 65.5,221.4 63.7,221.3 61.9,222.3 60.5,224.2 59.8,225.8 59.2,227.8 58.7,229.5 58.3,231.3 57.9,233.2 57.5,235.1 57.1,237.3 56.9,239.1 56.6,241.0 56.4,243.0 56.1,244.9 55.9,246.8 55.7,248.8 55.5,250.5" fill="none" stroke="#ff1a1a" stroke-width="1.5" stroke-linejoin="round" stroke-linecap="round"/><polygon points="228.5,76.3 225.2,85.3 260.7,100.3 259.3,104.8 272,98.8 266.8,86 265.2,91.3" fill="none" stroke="#111" stroke-width="1.3" stroke-linejoin="miter"/><line x1="131.7" y1="177.1" x2="152" y2="177.1" stroke="#ff1a1a" stroke-width="1.4"/><text x="157.3" y="181.7"  font-size="12.3" fill="#111">Pt(A)</text><line x1="131.7" y1="189.6" x2="152" y2="189.6" stroke="#2ccc78" stroke-width="1.4"/><text x="157.3" y="194.2"  font-size="12.3" fill="#111">Pt(B)</text><line x1="131.7" y1="202.6" x2="152" y2="202.6" stroke="#1414ff" stroke-width="1.4"/><text x="157.3" y="207.2"  font-size="12.3" fill="#111">Pt<tspan font-size="9" dy="3.5">3</tspan><tspan dy="-3.5">Co(A)</tspan></text><line x1="131.7" y1="217.5" x2="152" y2="217.5" stroke="#00eef2" stroke-width="1.4"/><text x="157.3" y="222.1"  font-size="12.3" fill="#111">Pt<tspan font-size="9" dy="3.5">3</tspan><tspan dy="-3.5">Co(B)</tspan></text><line x1="131.7" y1="232.3" x2="152" y2="232.3" stroke="#d48e14" stroke-width="1.4"/><text x="157.3" y="236.9"  font-size="12.3" fill="#111">Pt<tspan font-size="9" dy="3.5">3</tspan><tspan dy="-3.5">Co(C)</tspan></text><line x1="394.3" y1="35" x2="674.3" y2="35" stroke="#8a8a8a" stroke-width="1.4"/><line x1="394.3" y1="0.5" x2="674.3" y2="0.5" stroke="#333" stroke-width="1.6"/><line x1="394.3" y1="0" x2="394.3" y2="264.5" stroke="#606060" stroke-width="1.3"/><line x1="674.3" y1="0" x2="674.3" y2="264.5" stroke="#606060" stroke-width="1.3"/><line x1="394.3" y1="264.0" x2="674.3" y2="264.0" stroke="#606060" stroke-width="1.3"/><path d="M435.6,264.0 V256.0 M435.6,0 V8 M488.5,264.0 V256.0 M488.5,0 V8 M541.4,264.0 V256.0 M541.4,0 V8 M594.2,264.0 V256.0 M594.2,0 V8 M647.1,264.0 V256.0 M647.1,0 V8 M394.3,262.9 H402.3 M674.3,262.9 H666.3 M394.3,230.4 H402.3 M674.3,230.4 H666.3 M394.3,197.8 H402.3 M674.3,197.8 H666.3 M394.3,165.2 H402.3 M674.3,165.2 H666.3 M394.3,132.7 H402.3 M674.3,132.7 H666.3 M394.3,100.1 H402.3 M674.3,100.1 H666.3 M394.3,67.6 H402.3 M674.3,67.6 H666.3 M394.3,35.0 H402.3 M674.3,35.0 H666.3 M394.3,2.4 H402.3 M674.3,2.4 H666.3" stroke="#606060" stroke-width="1.2" fill="none"/><g  font-size="10.8" stroke="#111" stroke-width="0.05" fill="#111"><text transform="translate(435.6,279.7) scale(1.25,1)" text-anchor="middle">0.2</text><text transform="translate(488.5,279.7) scale(1.25,1)" text-anchor="middle">0.4</text><text transform="translate(541.4,279.7) scale(1.25,1)" text-anchor="middle">0.6</text><text transform="translate(594.2,279.7) scale(1.25,1)" text-anchor="middle">0.8</text><text transform="translate(647.1,279.7) scale(1.25,1)" text-anchor="middle">1.0</text><text transform="translate(390.5,233.9) scale(1.28,1)" text-anchor="end">-1.2</text><text transform="translate(390.5,201.3) scale(1.28,1)" text-anchor="end">-1.0</text><text transform="translate(390.5,168.7) scale(1.28,1)" text-anchor="end">-0.8</text><text transform="translate(390.5,136.2) scale(1.28,1)" text-anchor="end">-0.6</text><text transform="translate(390.5,103.6) scale(1.28,1)" text-anchor="end">-0.4</text><text transform="translate(390.5,71.1) scale(1.28,1)" text-anchor="end">-0.2</text><text transform="translate(390.5,38.5) scale(1.28,1)" text-anchor="end">0.0</text><text transform="translate(390.5,5.9) scale(1.28,1)" text-anchor="end">0.2</text></g><g  font-size="11" fill="#111"><text x="345.5" y="270.2" font-size="12">-1.4x10</text><text x="382.8" y="263.5" font-size="8.5">-3</text></g><text x="534.8" y="296" text-anchor="middle"  font-size="12" fill="#111">E vs RHE (V)</text><text transform="translate(356.3,129) rotate(-90)" text-anchor="middle"  font-size="12.5" fill="#111">Current (A)</text><text x="405.2" y="25.6" font-size="18.6" fill="#111">(b)</text><path d="M409.4,221.2 410.5,220.1 412.0,219.6 414.1,219.5 415.7,219.5 417.5,219.6 419.6,219.7 421.9,219.8 423.8,219.9 425.4,219.9 427.1,220.0 428.9,220.1 430.8,220.2 432.6,220.2 434.5,220.3 436.2,220.4 437.7,220.5 439.7,220.6 442.0,220.8 443.5,220.9 445.2,221.1 447.4,221.4 449.9,221.6 451.7,221.8 453.8,222.0 455.4,222.2 457.0,222.3 458.7,222.5 460.5,222.7 462.3,222.9 464.1,223.0 465.9,223.2 467.7,223.3 469.5,223.4 471.0,223.5 473.2,223.6 475.5,223.7 477.0,223.8 478.5,223.8 480.1,223.9 481.7,223.9 483.3,223.9 485.0,224.0 486.8,224.0 488.7,224.0 490.8,224.0 492.5,224.0 494.5,224.0 496.8,224.0 498.4,224.0 500.1,223.9 501.8,223.9 503.5,223.9 505.3,223.9 507.0,223.8 508.8,223.8 510.6,223.8 512.3,223.7 514.0,223.7 515.8,223.6 517.4,223.6 519.1,223.6 520.7,223.5 522.9,223.5 524.8,223.4 526.9,223.3 528.9,223.3 530.7,223.2 532.5,223.2 534.1,223.1 535.7,223.0 537.2,223.0 538.7,222.9 541.0,222.8 542.5,222.7 544.0,222.6 545.5,222.5 547.2,222.4 548.8,222.3 550.6,222.2 552.3,222.0 554.1,221.9 555.9,221.8 557.6,221.6 559.4,221.5 561.1,221.4 562.8,221.2 564.4,221.0 566.0,220.9 568.0,220.7 570.3,220.4 572.6,220.0 574.4,219.7 576.0,219.4 578.1,218.9 579.9,218.4 582.2,217.7 584.3,217.0 585.9,216.3 587.2,215.5 589.0,214.1 590.0,212.8 590.8,211.5 591.5,210.1 592.4,208.4 593.2,206.6 594.0,204.9 594.6,203.5 595.5,201.4 596.1,199.8 596.8,198.2 597.6,196.4 598.3,194.6 598.8,193.1 599.4,191.5 599.9,189.8 600.4,187.9 600.8,186.5 601.2,184.9 601.6,183.2 602.0,181.6 602.4,180.0 602.8,178.3 603.3,176.6 603.7,175.0 604.1,173.3 604.5,171.7 604.9,170.0 605.3,168.3 605.7,166.7 606.1,165.0 606.5,163.3 606.8,161.7 607.2,160.0 607.5,158.3 607.9,156.7 608.2,155.0 608.6,153.3 608.9,151.7 609.2,150.0 609.6,148.3 609.9,146.7 610.2,145.0 610.5,143.3 610.8,141.7 611.1,140.0 611.4,138.3 611.7,136.7 612.0,135.0 612.3,133.3 612.6,131.7 612.9,130.0 613.2,128.3 613.5,126.7 613.8,125.0 614.1,123.3 614.4,121.7 614.7,120.0 615.0,118.3 615.3,116.7 615.6,115.0 615.9,113.3 616.2,111.7 616.5,110.0 616.8,108.3 617.1,106.7 617.4,105.0 617.7,103.3 618.1,101.7 618.4,100.0 618.7,98.3 619.1,96.7 619.4,95.0 619.8,93.3 620.1,91.7 620.5,90.0 620.9,88.3 621.3,86.7 621.6,85.0 622.0,83.3 622.4,81.7 622.9,80.0 623.3,78.3 623.7,76.7 624.2,75.0 624.6,73.3 625.1,71.7 625.5,70.0 626.0,68.3 626.5,66.7 627.0,65.1 627.4,63.6 628.0,61.8 628.6,59.9 629.3,57.8 629.8,56.2 630.3,54.4 630.9,52.8 631.6,50.7 632.2,49.0 632.9,47.2 633.8,45.2 634.6,43.7 635.5,42.2 636.4,40.9 637.4,39.7 638.7,38.3 640.0,37.1 641.4,36.1 643.0,35.1 644.6,34.3 646.3,33.6 647.8,33.1 649.4,32.7 651.0,32.5 652.8,32.2 654.7,32.1 655.8,32.0" fill="none" stroke="#2ccc78" stroke-width="1.4" stroke-linejoin="round" stroke-linecap="round"/><path d="M409.4,213.2 410.2,211.6 411.5,210.4 413.1,209.7 414.8,209.5 417.2,209.3 419.1,209.4 421.3,209.5 423.1,209.6 424.9,209.7 426.7,209.8 428.3,209.9 429.9,210.0 431.5,210.1 433.3,210.2 435.0,210.3 436.7,210.4 438.3,210.6 439.8,210.7 441.6,211.0 443.6,211.3 445.6,211.7 447.4,212.0 449.9,212.3 451.7,212.5 453.8,212.8 455.4,212.9 457.0,213.1 458.7,213.3 460.5,213.4 462.3,213.6 464.1,213.7 465.9,213.9 467.7,214.0 469.5,214.1 471.0,214.2 473.2,214.3 475.5,214.3 477.0,214.4 478.5,214.4 480.1,214.4 481.6,214.4 483.3,214.4 485.0,214.4 486.8,214.4 488.7,214.4 490.8,214.4 492.5,214.4 494.5,214.4 496.8,214.3 498.4,214.3 500.1,214.3 501.8,214.3 503.5,214.2 505.3,214.2 507.0,214.2 508.8,214.1 510.6,214.1 512.3,214.1 514.0,214.0 515.8,214.0 517.4,213.9 519.1,213.9 520.7,213.9 522.9,213.8 524.8,213.8 526.9,213.8 528.9,213.8 530.7,213.7 532.5,213.7 534.1,213.7 535.7,213.7 537.2,213.7 538.7,213.7 541.0,213.7 542.5,213.6 544.0,213.6 545.5,213.6 547.1,213.5 548.8,213.4 550.6,213.3 552.3,213.3 554.1,213.2 555.9,213.1 557.6,213.0 559.4,212.8 561.1,212.7 562.8,212.6 564.4,212.5 566.0,212.3 568.0,212.1 570.3,211.9 572.6,211.6 574.5,211.3 576.1,211.0 577.6,210.6 579.4,210.2 581.1,209.8 583.5,209.2 585.0,208.7 586.9,208.0 588.7,207.2 590.4,206.3 592.0,205.5 593.7,204.7 595.2,203.9 596.6,202.9 597.8,201.7 598.9,200.3 600.0,198.7 600.8,197.4 601.5,195.9 602.3,194.4 602.9,193.0 603.5,191.4 604.0,189.9 604.6,187.9 605.2,185.8 605.7,184.2 606.1,182.5 606.6,180.8 607.1,179.2 607.6,177.5 608.2,175.8 608.7,174.2 609.2,172.5 609.7,170.8 610.2,169.2 610.7,167.5 611.1,165.8 611.6,164.2 612.0,162.5 612.4,160.8 612.8,159.2 613.2,157.5 613.6,155.8 614.0,154.2 614.3,152.5 614.7,150.8 615.0,149.2 615.4,147.5 615.7,145.8 616.0,144.2 616.3,142.5 616.6,140.8 616.9,139.2 617.2,137.5 617.5,135.8 617.8,134.2 618.1,132.5 618.4,130.8 618.6,129.2 618.9,127.5 619.2,125.8 619.4,124.2 619.7,122.5 620.0,120.8 620.2,119.2 620.5,117.5 620.7,115.8 621.0,114.2 621.3,112.5 621.5,110.8 621.8,109.2 622.0,107.5 622.3,105.8 622.6,104.2 622.9,102.5 623.1,100.8 623.4,99.2 623.7,97.5 624.0,95.8 624.3,94.2 624.6,92.5 624.9,90.8 625.3,89.2 625.6,87.5 625.9,85.8 626.3,84.2 626.6,82.5 627.0,80.8 627.4,79.2 627.7,77.5 628.1,75.8 628.5,74.2 629.0,72.5 629.4,70.8 629.8,69.2 630.3,67.5 630.7,65.9 631.2,64.3 631.7,62.7 632.2,60.9 632.7,59.2 633.1,57.8 633.6,56.2 634.1,54.4 634.6,52.8 635.2,50.7 635.7,49.0 636.3,47.2 637.1,45.2 637.8,43.7 638.5,42.3 639.3,40.8 640.2,39.5 641.1,38.1 642.3,36.8 643.4,35.6 644.6,34.5 646.2,33.4 647.8,32.4 649.5,31.6 651.1,31.0 652.6,30.6 654.2,30.2 656.0,29.9 657.6,29.8 659.4,29.9 660.6,30.4" fill="none" stroke="#ff1a1a" stroke-width="1.4" stroke-linejoin="round" stroke-linecap="round"/><path d="M409.4,215.2 410.5,214.0 412.0,213.3 414.1,213.1 415.7,213.0 417.5,213.0 419.6,213.1 421.9,213.1 423.8,213.2 425.4,213.3 427.1,213.3 428.9,213.4 430.8,213.6 432.6,213.7 434.5,213.8 436.2,213.9 437.7,214.0 439.7,214.1 442.0,214.2 443.5,214.3 445.2,214.4 447.4,214.5 449.9,214.6 451.7,214.8 453.8,214.9 455.4,215.1 457.0,215.2 458.7,215.3 460.5,215.5 462.3,215.6 464.1,215.7 465.9,215.8 467.7,215.9 469.5,216.0 471.0,216.0 473.2,216.0 475.5,216.0 477.0,216.0 478.5,216.0 480.1,215.9 481.6,215.9 483.3,215.9 485.0,215.8 486.8,215.8 488.7,215.7 490.8,215.7 492.5,215.7 494.5,215.7 496.8,215.7 498.4,215.7 500.1,215.6 501.8,215.6 503.5,215.6 505.3,215.6 507.0,215.6 508.8,215.6 510.6,215.6 512.3,215.6 514.0,215.6 515.8,215.6 517.4,215.6 519.1,215.6 520.7,215.5 522.9,215.5 524.8,215.5 526.9,215.5 528.9,215.5 530.7,215.4 532.5,215.4 534.1,215.4 535.7,215.4 537.2,215.3 538.7,215.3 541.0,215.2 542.5,215.2 544.0,215.1 545.5,215.1 547.2,215.0 548.8,214.9 550.5,214.8 552.3,214.7 554.0,214.6 555.7,214.5 557.5,214.4 559.2,214.3 560.9,214.2 562.6,214.1 564.2,214.0 565.8,213.8 567.9,213.6 570.2,213.4 572.4,213.2 574.4,212.9 576.2,212.7 577.9,212.5 579.5,212.2 581.0,211.9 582.9,211.6 585.3,211.0 587.3,210.3 589.1,209.5 590.9,208.6 592.4,207.8 594.0,207.0 595.5,206.1 596.8,205.1 598.0,204.1 599.1,202.8 600.1,201.4 600.9,200.1 602.2,198.0 603.1,196.3 603.8,194.6 604.4,193.0 604.9,191.5 605.3,189.9 605.8,188.0 606.5,185.8 607.0,184.1 607.5,182.4 608.1,180.8 608.6,179.2 609.1,177.5 609.7,175.8 610.2,174.2 610.7,172.5 611.2,170.8 611.7,169.2 612.1,167.5 612.6,165.8 613.0,164.2 613.4,162.5 613.9,160.8 614.3,159.2 614.7,157.5 615.0,155.8 615.4,154.2 615.8,152.5 616.1,150.8 616.5,149.2 616.8,147.5 617.2,145.8 617.5,144.2 617.8,142.5 618.1,140.8 618.4,139.2 618.7,137.5 619.0,135.8 619.3,134.2 619.6,132.5 619.9,130.8 620.2,129.2 620.5,127.5 620.8,125.8 621.0,124.2 621.3,122.5 621.6,120.8 621.9,119.2 622.1,117.5 622.4,115.8 622.7,114.2 623.0,112.5 623.3,110.8 623.5,109.2 623.8,107.5 624.1,105.8 624.4,104.2 624.7,102.5 625.0,100.8 625.3,99.2 625.6,97.5 625.9,95.8 626.2,94.2 626.5,92.5 626.9,90.8 627.2,89.2 627.6,87.5 627.9,85.8 628.3,84.2 628.7,82.5 629.0,80.8 629.4,79.2 629.8,77.5 630.2,75.8 630.7,74.2 631.1,72.5 631.5,70.8 632.0,69.2 632.5,67.5 632.9,65.9 633.4,64.3 633.9,62.7 634.5,60.9 635.0,59.3 635.5,57.8 636.1,56.2 636.7,54.4 637.2,52.8 637.7,51.3 638.5,49.0 639.2,47.2 639.9,45.2 640.6,43.6 641.5,41.9 642.5,40.3 643.6,39.0 644.7,37.7 645.9,36.6 647.8,35.2 649.4,34.3 651.1,33.7 652.6,33.3 654.1,33.0 655.8,32.8 657.6,32.7 659.5,32.6 660.6,32.6" fill="none" stroke="#d48e14" stroke-width="1.4" stroke-linejoin="round" stroke-linecap="round"/><path d="M409.4,217.3 410.5,216.1 412.0,215.5 414.1,215.3 415.7,215.3 417.5,215.3 419.6,215.3 421.9,215.4 423.8,215.4 425.4,215.5 427.1,215.5 428.9,215.6 430.8,215.6 432.6,215.7 434.5,215.8 436.2,215.8 437.7,215.9 439.7,216.0 442.0,216.2 443.5,216.3 445.2,216.4 447.4,216.7 449.9,216.9 451.7,217.1 453.8,217.3 455.4,217.4 457.0,217.6 458.7,217.8 460.5,217.9 462.3,218.1 464.1,218.2 465.9,218.3 467.7,218.4 469.5,218.5 471.0,218.5 473.2,218.6 475.5,218.6 477.0,218.6 478.5,218.6 480.1,218.6 481.6,218.6 483.3,218.6 485.0,218.6 486.8,218.5 488.7,218.5 490.8,218.5 492.5,218.5 494.5,218.5 496.8,218.5 498.4,218.5 500.1,218.4 501.8,218.4 503.5,218.4 505.3,218.4 507.0,218.4 508.8,218.4 510.6,218.3 512.3,218.3 514.0,218.3 515.8,218.3 517.4,218.3 519.1,218.3 520.7,218.2 522.9,218.2 524.8,218.2 526.9,218.2 528.9,218.2 530.7,218.2 532.5,218.2 534.1,218.2 535.7,218.2 537.2,218.2 538.7,218.2 541.0,218.1 542.5,218.1 544.0,218.1 545.5,218.1 547.1,218.0 548.8,217.9 550.6,217.8 552.3,217.7 554.1,217.6 555.9,217.5 557.7,217.4 559.5,217.3 561.2,217.1 562.9,217.0 564.6,216.9 566.1,216.8 568.0,216.6 570.4,216.4 572.9,216.2 574.7,216.1 576.8,215.9 578.5,215.7 580.9,215.4 583.1,215.1 584.7,214.8 586.9,214.3 588.9,213.7 590.6,213.1 592.0,212.5 593.6,211.7 594.9,210.9 596.5,210.0 598.3,208.6 599.8,207.1 600.9,205.8 602.0,204.4 603.0,203.1 604.0,201.7 604.9,200.3 605.7,198.8 606.6,197.2 607.3,195.4 608.0,193.7 608.6,192.1 609.1,190.7 609.7,189.0 610.3,187.3 610.8,185.9 611.5,184.2 612.2,182.4 612.8,180.8 613.3,179.1 613.7,177.4 614.2,175.8 614.5,174.2 614.9,172.5 615.3,170.8 615.7,169.2 616.0,167.5 616.4,165.8 616.7,164.2 617.1,162.5 617.4,160.8 617.8,159.2 618.1,157.5 618.4,155.8 618.7,154.2 619.0,152.5 619.3,150.8 619.6,149.2 619.9,147.5 620.2,145.8 620.5,144.2 620.7,142.5 621.0,140.8 621.3,139.2 621.5,137.5 621.8,135.8 622.1,134.2 622.3,132.5 622.6,130.8 622.9,129.2 623.1,127.5 623.4,125.8 623.6,124.2 623.9,122.5 624.1,120.8 624.4,119.2 624.7,117.5 624.9,115.8 625.2,114.2 625.5,112.5 625.7,110.8 626.0,109.2 626.3,107.5 626.6,105.8 626.9,104.2 627.2,102.5 627.5,100.8 627.8,99.2 628.1,97.5 628.4,95.8 628.7,94.2 629.0,92.5 629.4,90.8 629.7,89.2 630.1,87.5 630.4,85.8 630.8,84.2 631.2,82.5 631.5,80.8 631.9,79.2 632.3,77.5 632.7,75.8 633.2,74.2 633.6,72.5 634.1,70.8 634.5,69.2 635.0,67.5 635.5,65.9 635.9,64.3 636.4,62.7 637.0,60.9 637.4,59.2 637.8,57.6 638.3,55.8 638.8,53.9 639.2,52.2 639.6,50.8 640.2,49.0 640.9,47.2 641.8,45.2 642.6,43.6 643.6,41.9 644.6,40.3 645.6,38.9 646.7,37.7 647.9,36.6 649.3,35.6 651.0,34.5 652.7,33.6 654.4,32.9 656.0,32.4 658.4,32.0 660.3,31.8" fill="none" stroke="#00eef2" stroke-width="1.4" stroke-linejoin="round" stroke-linecap="round"/><path d="M409.4,226.6 410.5,225.4 412.0,224.7 414.1,224.5 415.7,224.4 417.5,224.4 419.6,224.4 421.9,224.5 423.8,224.6 425.4,224.7 427.1,224.8 428.9,225.0 430.8,225.1 432.6,225.3 434.5,225.4 436.2,225.6 437.7,225.7 439.7,225.9 442.0,226.1 443.5,226.2 445.2,226.4 447.4,226.6 449.9,226.8 451.7,227.0 453.8,227.2 455.4,227.3 457.0,227.5 458.7,227.6 460.5,227.8 462.3,227.9 464.1,228.1 465.9,228.2 467.7,228.3 469.5,228.4 471.0,228.5 473.2,228.6 475.5,228.7 477.0,228.7 478.5,228.8 480.1,228.8 481.7,228.8 483.3,228.9 485.0,228.9 486.8,228.9 488.7,228.9 490.8,228.9 492.5,228.9 494.5,228.9 496.8,228.9 498.4,228.8 500.1,228.8 501.8,228.8 503.5,228.8 505.3,228.7 507.0,228.7 508.8,228.7 510.6,228.6 512.3,228.6 514.0,228.6 515.8,228.5 517.4,228.5 519.1,228.4 520.7,228.4 522.9,228.4 524.8,228.3 526.9,228.3 528.9,228.2 530.7,228.2 532.5,228.1 534.1,228.1 535.7,228.0 537.2,228.0 538.7,227.9 541.0,227.9 542.5,227.8 544.0,227.7 545.5,227.7 547.2,227.6 548.8,227.5 550.5,227.4 552.3,227.3 554.0,227.3 555.7,227.2 557.5,227.1 559.2,227.0 560.9,226.9 562.6,226.7 564.2,226.6 565.8,226.5 567.9,226.3 570.2,226.0 572.4,225.7 574.3,225.3 576.1,225.0 577.8,224.6 579.4,224.3 581.0,223.9 582.9,223.4 585.3,222.8 587.4,222.2 588.9,221.7 590.7,221.0 592.7,220.1 594.5,219.1 595.8,218.3 597.8,216.8 599.3,215.6 600.7,214.5 601.8,213.5 603.3,212.1 604.7,210.4 605.7,209.0 606.6,207.6 607.4,206.3 608.4,204.6 609.2,203.0 610.0,201.3 610.6,199.8 611.3,198.1 611.9,196.4 612.5,194.7 613.1,193.0 613.6,191.4 614.1,189.8 614.6,187.9 614.9,186.5 615.3,184.9 615.6,183.2 616.0,181.6 616.3,180.0 616.6,178.3 617.0,176.6 617.4,175.0 617.7,173.3 618.1,171.7 618.4,170.0 618.7,168.3 619.0,166.7 619.4,165.0 619.7,163.3 620.0,161.7 620.3,160.0 620.6,158.3 620.9,156.7 621.1,155.0 621.4,153.3 621.7,151.7 622.0,150.0 622.2,148.3 622.5,146.7 622.7,145.0 623.0,143.3 623.3,141.7 623.5,140.0 623.8,138.3 624.0,136.7 624.3,135.0 624.5,133.3 624.8,131.7 625.0,130.0 625.3,128.3 625.5,126.7 625.8,125.0 626.0,123.3 626.3,121.7 626.5,120.0 626.8,118.3 627.0,116.7 627.3,115.0 627.6,113.3 627.8,111.7 628.1,110.0 628.4,108.3 628.7,106.7 628.9,105.0 629.2,103.3 629.5,101.7 629.8,100.0 630.1,98.3 630.4,96.7 630.7,95.0 631.1,93.3 631.4,91.7 631.7,90.0 632.1,88.3 632.4,86.7 632.8,85.0 633.1,83.3 633.5,81.7 633.9,80.0 634.3,78.3 634.7,76.7 635.1,75.0 635.5,73.3 636.0,71.7 636.4,70.0 636.9,68.3 637.3,66.7 637.8,65.1 638.3,63.5 638.8,61.9 639.3,60.0 639.6,58.4 640.0,56.7 640.4,54.9 640.7,53.0 641.1,51.4 641.7,49.0 642.3,47.2 643.1,45.2 643.8,43.6 644.8,41.9 645.8,40.3 646.8,38.9 647.8,37.7 649.4,36.1 650.9,35.0 652.5,34.1 654.2,33.3 656.0,32.6 657.7,32.0 659.4,31.4 660.5,31.0" fill="none" stroke="#1414ff" stroke-width="1.4" stroke-linejoin="round" stroke-linecap="round"/><polygon points="595.2,132.7 633.8,132.7 633.8,127 644.3,137.6 633.8,148 633.8,142.8 595.2,142.8" fill="none" stroke="#111" stroke-width="1.3" stroke-linejoin="miter"/><line x1="435.2" y1="99.2" x2="455.5" y2="99.2" stroke="#ff1a1a" stroke-width="1.4"/><text x="460.0" y="103.8"  font-size="12" fill="#111">Pt(A)</text><line x1="435.2" y1="111.7" x2="455.5" y2="111.7" stroke="#2ccc78" stroke-width="1.4"/><text x="460.0" y="116.3"  font-size="12" fill="#111">Pt(B)</text><line x1="435.2" y1="124.5" x2="455.5" y2="124.5" stroke="#1414ff" stroke-width="1.4"/><text x="459.9" y="129.1"  font-size="12" fill="#111">Pt<tspan font-size="9" dy="3.5">3</tspan><tspan dy="-3.5">Co(A)</tspan></text><line x1="435.2" y1="139.5" x2="455.5" y2="139.5" stroke="#00eef2" stroke-width="1.4"/><text x="462.9" y="144.1"  font-size="12" fill="#111">Pt<tspan font-size="9" dy="3.5">3</tspan><tspan dy="-3.5">Co(B)</tspan></text><line x1="435.2" y1="154.3" x2="455.5" y2="154.3" stroke="#d48e14" stroke-width="1.4"/><text x="459.9" y="158.9"  font-size="12" fill="#111">Pt<tspan font-size="9" dy="3.5">3</tspan><tspan dy="-3.5">Co(C)</tspan></text></svg>
</body></html>
